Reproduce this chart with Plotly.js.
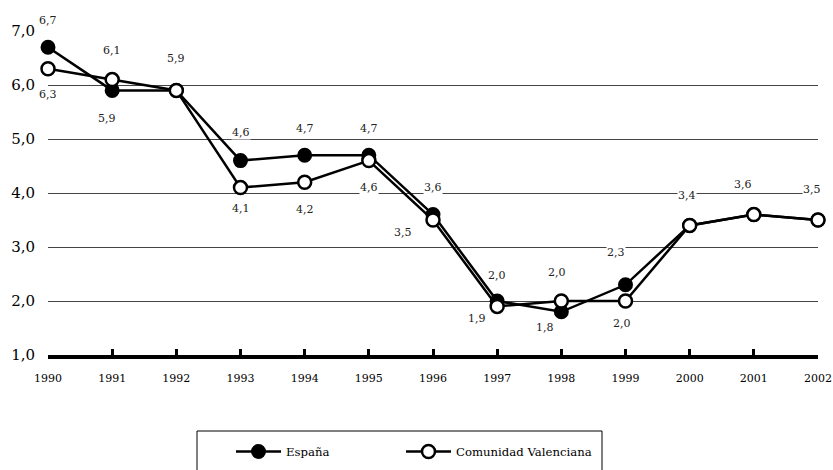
<!DOCTYPE html>
<html>
<head>
<meta charset="utf-8">
<script src="https://cdn.plot.ly/plotly-3.0.1.min.js"></script>
<style>html,body{margin:0;padding:0;background:#fff;}#chart{width:833px;height:470px;}</style>
</head>
<body>
<div id="chart"></div>
<script>
const years = [1990,1991,1992,1993,1994,1995,1996,1997,1998,1999,2000,2001,2002];
const espana = [6.7,5.9,5.9,4.6,4.7,4.7,3.6,2.0,1.8,2.3,3.4,3.6,3.5];
const valencia = [6.3,6.1,5.9,4.1,4.2,4.6,3.5,1.9,2.0,2.0,3.4,3.6,3.5];
const espanaLabels = ['6,7','5,9','5,9','4,6','4,7','4,7','3,6','2,0','1,8','2,3','3,4','3,6','3,5'];
const valenciaLabels = ['6,3','6,1',null,'4,1','4,2','4,6','3,5','1,9','2,0','2,0',null,null,null];
const seriesNames = ['España','Comunidad Valenciana'];
const yTicks = [1,2,3,4,5,6,7];

// label offsets in pixels (dx, dy up)
const espanaDx = [0,-5,0,0,0,0,0,0,-16,-10,-3,-11,-6];
const espanaDy = [27,-28,32,28,27,27,27,26,-16,32,30,30,31];
const valenciaDx = [0,0,0,0,0,0,-30,-20,-4,-4,0,0,0];
const valenciaDy = [-26,29,0,-21,-27,-27,-12,-12,29,-22,0,0,0];

const font = 'DejaVu Serif';

const traces = [
  {x: years, y: espana, name: seriesNames[0], type: 'scatter', mode: 'lines+markers', cliponaxis: false,
   legend: 'legend',
   line: {color: '#000', width: 2.5},
   marker: {color: '#000', size: 13, line: {color: '#000', width: 2}}},
  {x: years, y: valencia, name: seriesNames[1], type: 'scatter', mode: 'lines+markers', cliponaxis: false,
   legend: 'legend2',
   line: {color: '#000', width: 2.5},
   marker: {color: '#fff', size: 13, line: {color: '#000', width: 2.5}}}
];

const annotations = [];
function addLabels(vals, labels, dx, dy) {
  for (let i = 0; i < years.length; i++) {
    if (labels[i] === null) continue;
    annotations.push({x: years[i], y: vals[i], xref: 'x', yref: 'y', text: labels[i],
      showarrow: false, xshift: dx[i], yshift: dy[i], bgcolor: '#fff', borderpad: 0,
      font: {family: font, size: 11, color: '#222'}});
  }
}
addLabels(espana, espanaLabels, espanaDx, espanaDy);
addLabels(valencia, valenciaLabels, valenciaDx, valenciaDy);

const legendBase = {orientation: 'h', xanchor: 'left', y: -(437-355)/324, yanchor: 'top',
  font: {family: font, size: 11.7, color: '#000'}, bgcolor: 'rgba(0,0,0,0)', borderwidth: 0,
  itemwidth: 45};

const layout = {
  width: 833, height: 470,
  margin: {l: 48, r: 15, t: 31, b: 115, autoexpand: false},
  paper_bgcolor: '#fff', plot_bgcolor: '#fff',
  separators: ', ',
  font: {family: font, color: '#000'},
  showlegend: true,
  xaxis: {range: [1990, 2002], tickvals: years, ticktext: years.map(String),
    showgrid: false, zeroline: false, showline: true, linecolor: '#000', linewidth: 4,
    ticks: 'inside', ticklen: 6, tickwidth: 3, tickcolor: '#000',
    tickfont: {family: font, size: 11, color: '#000'}, ticklabelstandoff: 10},
  yaxis: {range: [1, 7], tickvals: yTicks, tickformat: '.1f',
    showgrid: true, gridcolor: '#444', gridwidth: 1, zeroline: false, showline: false,
    ticks: '', tickfont: {family: font, size: 15, color: '#000'}, ticklabelstandoff: 12},
  legend: Object.assign({}, legendBase, {x: (231-48)/770}),
  legend2: Object.assign({}, legendBase, {x: (401-48)/770}),
  shapes: [{type: 'rect', xref: 'paper', yref: 'paper', x0: (197-48)/770, x1: (602-48)/770,
    y0: -(480-355)/324, y1: -(431-355)/324, line: {color: '#000', width: 1}, fillcolor: 'rgba(0,0,0,0)'}],
  annotations: annotations
};

Plotly.newPlot('chart', traces, layout, {displayModeBar: false, staticPlot: true});
</script>
</body>
</html>
